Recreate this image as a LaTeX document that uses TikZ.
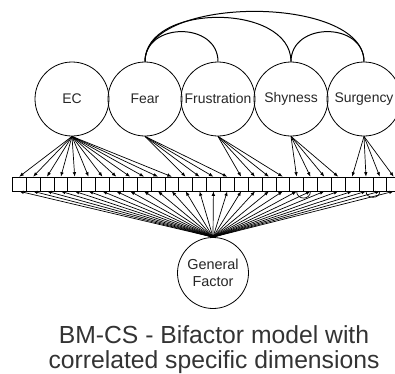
\documentclass[tikz,border=0pt]{standalone}
\usepackage{fontspec}
\setmainfont{Liberation Sans}
\usetikzlibrary{arrows.meta}
\begin{document}
\begin{tikzpicture}[x=1bp,y=-1bp,
  factor/.style={draw, circle, minimum size=74bp, inner sep=0pt, line width=0.8bp, text=black!85, font=\fontsize{14}{16}\selectfont},
  item/.style={draw, rectangle, minimum width=13.87bp, minimum height=14bp, inner sep=0pt, line width=0.6bp},
  load/.style={-{Latex[length=4.5bp,width=3.5bp]}, line width=0.7bp},
  corr/.style={line width=1bp},
  resid/.style={line width=0.7bp},
  caption/.style={anchor=base, text=black!80, font=\fontsize{24.8}{26}\selectfont}]
\useasboundingbox (0,0) rectangle (395,374);
\clip (0,0) rectangle (395,374);
% specific factors
\node[factor] (ec)   at (72,99)  {EC};
\node[factor] (fear) at (145,99) {Fear};
\node[factor] (frus) at (218,99) {Frustration};
\node[factor] (shy)  at (291,99) {Shyness};
\node[factor] (surg) at (364,99) {Surgency};
% general factor
\node[factor, minimum size=71bp, align=center, font=\fontsize{14.5}{17}\selectfont] (gf) at (213,273) {General\\Factor};
% items
\foreach \i in {1,...,28} {
  \node[item] (b\i) at ({12.3+13.87*(\i-0.5)},184) {};
}
% specific loadings
\foreach \i in {1,...,12} { \draw[load] (ec.south) -- (b\i.north); }
\foreach \i in {13,...,16} { \draw[load] (fear.south) -- (b\i.north); }
\foreach \i in {17,...,20} { \draw[load] (frus.south) -- (b\i.north); }
\foreach \i in {21,...,24} { \draw[load] (shy.south) -- (b\i.north); }
\foreach \i in {25,...,28} { \draw[load] (surg.south) -- (b\i.north); }
% general loadings
\foreach \i in {1,...,28} { \draw[load] (gf.north) -- (b\i.south); }
% residual correlations
\draw[resid] (b21.south) .. controls +(0,9) and +(0,9) .. (b22.south);
\draw[resid] (b26.south) .. controls +(0,8) and +(0,8) .. (b27.south);
% factor correlations
\draw[corr] (fear.north) .. controls +(0,-40) and +(0,-40) .. (frus.north);
\draw[corr] (fear.north) .. controls +(0,-59) and +(0,-59) .. (shy.north);
\draw[corr] (fear.north) .. controls +(0,-67) and +(0,-67) .. (surg.north);
\draw[corr] (shy.north) .. controls +(0,-40) and +(0,-40) .. (surg.north);
% caption
\node[caption] (cap1) at (214,343) {BM-CS - Bifactor model with};
\node[caption] (cap2) at (214,368) {correlated specific dimensions};
\end{tikzpicture}
\end{document}
